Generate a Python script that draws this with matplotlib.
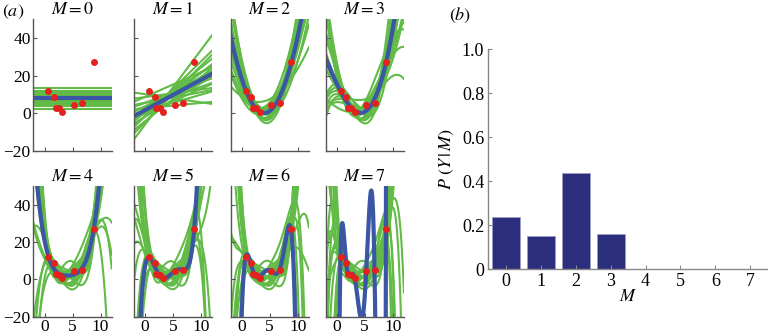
import numpy as np
import matplotlib
matplotlib.use("Agg")
import matplotlib.pyplot as plt
from statistics import NormalDist

plt.rcParams['font.family'] = ['Liberation Serif', 'DejaVu Serif']
plt.rcParams['mathtext.fontset'] = 'stix'

# observed data
x_obs = [0.68, 1.70, 2.00, 2.59, 3.18, 5.27, 6.75, 8.79]
y_obs = [11.8, 8.8, 3.0, 2.65, 0.85, 4.4, 5.3, 27.2]

# model orders and their marginal likelihoods
orders = [0, 1, 2, 3, 4, 5, 6, 7]
evidence = [0.24, 0.15, 0.44, 0.16, 0.0, 0.0, 0.0, 0.0]

x_ticks = [0, 5, 10]
y_ticks = [-20, 0, 20, 40]
p_ticks = [0, 0.2, 0.4, 0.6, 0.8, 1.0]
p_tick_labels = ['0', '0.2', '0.4', '0.6', '0.8', '1.0']

# regression settings
prior_sd = 60.0
noise_a, noise_b = 1.0, 150.0   # inverse-gamma on the noise variance
x_center, x_scale = 5.0, 5.0
n_draws = 20

GREEN = '#62bb47'
BLUE = '#3a56a5'
RED = '#e3211f'
NAVY = '#2b2e7c'
AXIS = '#555555'


def design(x, order):
    u = (np.asarray(x, dtype=float) - x_center) / x_scale
    return np.vander(u, order + 1, increasing=True)


def ml_fit(order):
    w, *_ = np.linalg.lstsq(design(x_obs, order), np.asarray(y_obs), rcond=None)
    return w


def noise_var(order):
    # posterior mode of the noise variance given the ML residuals
    resid = np.asarray(y_obs) - design(x_obs, order) @ ml_fit(order)
    return (resid @ resid + 2 * noise_b) / (len(y_obs) + 2 * noise_a + 2)


def posterior(order):
    Phi = design(x_obs, order)
    s2 = noise_var(order)
    A = Phi.T @ Phi / s2 + np.eye(order + 1) / prior_sd**2
    S = np.linalg.inv(A)
    m = S @ Phi.T @ np.asarray(y_obs) / s2
    return m, S


# latin-hypercube style draws: every coefficient direction takes each
# normal quantile once, with a different stride per direction
quantiles = np.array([NormalDist().inv_cdf((k + 0.5) / n_draws)
                      for k in range(n_draws)])
strides = [1, 3, 7, 9, 11, 13, 17, 19]


def posterior_draws(order):
    m, S = posterior(order)
    L = np.linalg.cholesky(S)
    Z = np.array([[quantiles[(strides[i] * j + 5 * i) % n_draws]
                   for i in range(order + 1)] for j in range(n_draws)])
    return m + Z @ L.T


fig = plt.figure(figsize=(7.68, 3.36), dpi=100)

lefts = [33.3, 133.8, 230.5, 325.5]
xs = np.linspace(-2, 12, 500)

for k, M in enumerate(orders):
    row, col = divmod(k, 4)
    if row == 0:
        bottom, height = 1 - 151 / 336, 131.5 / 336
    else:
        bottom, height = 1 - 316.7 / 336, 130.4 / 336
    ax = fig.add_axes([lefts[col] / 768, bottom, 78.4 / 768, height])

    Phi_grid = design(xs, M)
    for w in posterior_draws(M):
        ax.plot(xs, Phi_grid @ w, color=GREEN, lw=1.5, zorder=1)
    ax.plot(xs, Phi_grid @ ml_fit(M), color=BLUE, lw=3.0, zorder=2)
    ax.plot(x_obs, y_obs, 'o', color=RED, ms=5, mec='none', zorder=3)

    ax.set_xlim(-2, 12)
    ax.set_ylim(-20, 50)
    ax.set_xticks(x_ticks)
    ax.set_yticks(y_ticks)
    ax.tick_params(direction='in', length=3, width=0.8, color=AXIS,
                   labelsize=12.5, pad=2)
    if col != 0:
        ax.set_yticklabels([])
    else:
        ax.set_yticklabels(['\u221220', '0', '20', '40'])
    if row == 0:
        ax.set_xticklabels([])
    for side in ['top', 'right']:
        ax.spines[side].set_visible(False)
    for side in ['left', 'bottom']:
        ax.spines[side].set_color(AXIS)
        ax.spines[side].set_linewidth(1.0)
    ax.set_title(r'$M = %d$' % M, fontsize=13, pad=4)

fig.text(0.003, 0.965, r'$(a)$', fontsize=13, va='center', ha='left')

# evidence for each model order
bx = fig.add_axes([488.3 / 768, 1 - 269.3 / 336, 279.5 / 768, 220 / 336])
bx.bar(orders, evidence, width=0.8, color=NAVY, edgecolor='#9a9cc8',
       linewidth=0.6)
bx.set_xlim(-0.5, 7.5)
bx.set_ylim(0, 1.0)
bx.set_xticks(orders)
bx.set_yticks(p_ticks)
bx.set_yticklabels(p_tick_labels)
bx.tick_params(direction='in', length=3, width=0.8, color='#888888',
               labelsize=13, pad=3)
for side in ['top', 'right']:
    bx.spines[side].set_visible(False)
for side in ['left', 'bottom']:
    bx.spines[side].set_color('#888888')
    bx.spines[side].set_linewidth(1.0)
bx.set_xlabel(r'$M$', fontsize=13, labelpad=-2)
bx.set_ylabel(r'$P\ (Y\,\vert\, M)$', fontsize=13, labelpad=4)
fig.text(449 / 768, 0.955, r'$(b)$', fontsize=13, va='center', ha='left')

fig.savefig('out.png', dpi=100)
